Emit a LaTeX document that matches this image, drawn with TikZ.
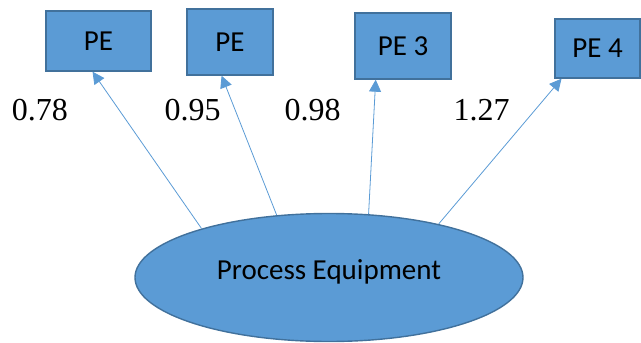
\documentclass[tikz,border=0pt]{standalone}
\usepackage{fontspec}
\setmainfont{Liberation Serif}
\newfontfamily\calib{Carlito}
\usetikzlibrary{arrows.meta,shapes.geometric}
\definecolor{peblue}{HTML}{5B9BD5}
\definecolor{peline}{HTML}{41719C}

\tikzset{
  pebox/.style={draw=peline, fill=peblue, line width=1.4pt, inner sep=0pt,
    font=\calib\fontsize{29}{34}\selectfont},
  loading/.style={font=\fontsize{32}{38}\selectfont, anchor=base},
  path/.style={draw=peblue, line width=0.8pt, -{Triangle[width=12pt,length=12pt]}}
}

\begin{document}
\begin{tikzpicture}[x=1pt, y=-1pt]
            \useasboundingbox (0,0) rectangle (641,343);

            % indicators
            \node[pebox, minimum width=105pt, minimum height=60pt] (pe1) at (98.5, 41) {PE};
            \node[pebox, minimum width=86pt, minimum height=66pt] (pe2) at (230, 42) {PE};
            \node[pebox, minimum width=96pt, minimum height=66pt] (pe3) at (403, 46) {PE 3};
            \node[pebox, minimum width=85pt, minimum height=59pt] (pe4) at (597.5, 48.5) {PE 4};

            % latent factor
            \node[pebox, ellipse, text depth=16pt, minimum width=388pt, minimum height=128pt] (equip) at (329, 277.5) {Process Equipment};

            % loadings
            \node[loading] (l1) at (40, 120) {0.78};
            \node[loading] (l2) at (192.5, 120) {0.95};
            \node[loading] (l3) at (312.5, 120) {0.98};
            \node[loading] (l4) at (481.5, 120) {1.27};

            \draw[path] (equip.159) -- (pe1.259.6);
            \draw[path] (equip.130) -- (pe2.256.4);
            \draw[path] (equip.58.6) -- (pe3.231.8);
            \draw[path] (equip.26.1) -- (pe4.220.5);
        \end{tikzpicture}
\end{document}
